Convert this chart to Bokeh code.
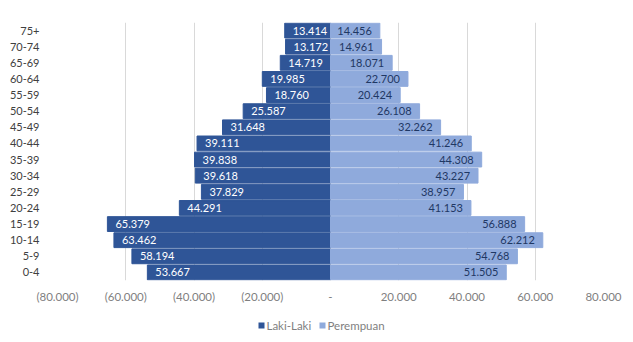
from bokeh.plotting import figure
from bokeh.layouts import column
from bokeh.models import (ColumnDataSource, FactorRange, Range1d, FixedTicker)
from bokeh.core.properties import value
from bokeh.embed import file_html
from bokeh.resources import INLINE

ages = ["75+", "70-74", "65-69", "60-64", "55-59", "50-54", "45-49", "40-44",
        "35-39", "30-34", "25-29", "20-24", "15-19", "10-14", "5-9", "0-4"]
laki = [13414, 13172, 14719, 19985, 18760, 25587, 31648, 39111,
        39838, 39618, 37829, 44291, 65379, 63462, 58194, 53667]
perempuan = [14456, 14961, 18071, 22700, 20424, 26108, 32262, 41246,
             44308, 43227, 38957, 41153, 56888, 62212, 54768, 51505]
series_names = ["Laki-Laki", "Perempuan"]
tick_values = [-80000, -60000, -40000, -20000, 0, 20000, 40000, 60000, 80000]
tick_labels = ["(80.000)", "(60.000)", "(40.000)", "(20.000)", "-",
               "20.000", "40.000", "60.000", "80.000"]

def fmt(v):
    return f"{v:,}".replace(",", ".")

FONT = "Lato"
DARK = "#2F5597"
LIGHT = "#8FAADC"
COLORS = [DARK, LIGHT]

src = ColumnDataSource(dict(
    age=ages,
    laki_neg=[-v for v in laki],
    zero=[0] * len(ages),
    perempuan=perempuan,
    laki_lbl=[fmt(v) for v in laki],
    per_lbl=[fmt(v) for v in perempuan],
))

p = figure(width=633, height=305, output_backend="svg", toolbar_location=None,
           y_range=FactorRange(factors=list(reversed(ages)), range_padding=0),
           x_range=Range1d(-80000, 80000),
           min_border_left=57, min_border_right=30, min_border_top=22,
           min_border_bottom=18)

p.hbar(y="age", left="laki_neg", right="zero", height=0.92, color=DARK, source=src)
p.hbar(y="age", left="zero", right="perempuan", height=0.92, color=LIGHT, source=src)

p.text(x="laki_neg", y="age", text="laki_lbl", source=src, text_align="left",
       text_baseline="middle", x_offset=8, text_color="white",
       text_font=value(FONT), text_font_size="11px")
p.text(x="perempuan", y="age", text="per_lbl", source=src, text_align="right",
       text_baseline="middle", x_offset=-8, text_color="#1F3864",
       text_font=value(FONT), text_font_size="11px")

p.xaxis.ticker = FixedTicker(ticks=tick_values)
p.xaxis.major_label_overrides = {v: l for v, l in zip(tick_values, tick_labels)}
for ax in (p.xaxis, p.yaxis):
    ax.axis_line_color = None
    ax.major_tick_line_color = None
    ax.minor_tick_line_color = None
    ax.major_label_text_font = FONT
p.xaxis.major_label_text_font_size = "11.5px"
p.yaxis.major_label_text_font_size = "11px"
p.xaxis.major_label_text_color = "#7f7f7f"
p.yaxis.major_label_text_color = "#404040"
p.xaxis.major_label_standoff = 3
p.yaxis.major_label_standoff = 12

p.xgrid.ticker = FixedTicker(ticks=tick_values)
p.xgrid.grid_line_color = "#d9d9d9"
p.ygrid.grid_line_color = None
p.outline_line_color = None

# legend strip (data units == canvas pixels)
lg = figure(width=633, height=37, output_backend="svg", toolbar_location=None,
            x_range=Range1d(57, 603), y_range=Range1d(0, 37),
            min_border_left=57, min_border_right=30, min_border_top=0,
            min_border_bottom=0, x_axis_type=None, y_axis_type=None)
lg.grid.grid_line_color = None
lg.outline_line_color = None
leg_src = ColumnDataSource(dict(
    sx=[261, 322], tx=[266, 327], y=[17, 17],
    name=series_names, color=COLORS,
))
lg.scatter(x="sx", y="y", marker="square", size=6, line_width=0, color="color",
           source=leg_src)
lg.text(x="tx", y="y", text="name", source=leg_src, text_align="left",
        text_baseline="middle", text_color="#7f7f7f",
        text_font=value(FONT), text_font_size="11.5px")

layout = column(p, lg, spacing=0)
open("out.html", "w").write(file_html(layout, INLINE))
